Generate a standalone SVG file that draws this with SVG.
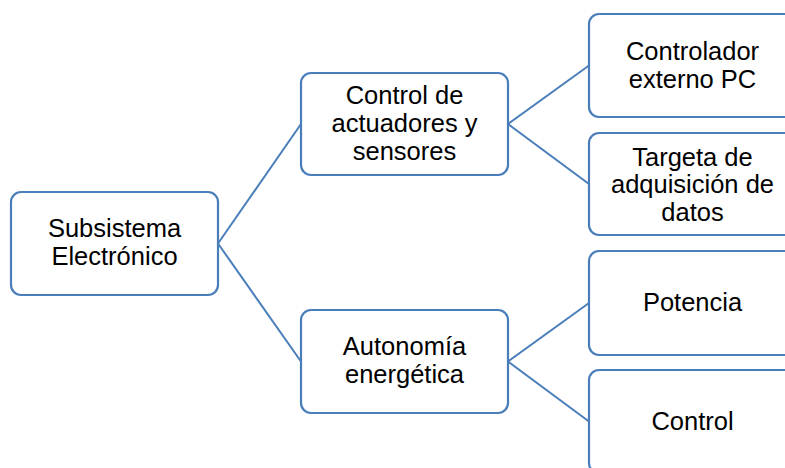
<svg xmlns="http://www.w3.org/2000/svg" width="785" height="468" viewBox="0 0 785 468">
<style>
.box{fill:#fff;stroke:#4A7EBB;stroke-width:2.2}
.lbl{font-family:"Liberation Sans",Arial,sans-serif;font-size:25.5px;fill:#000;text-anchor:middle}
.con{stroke:#4A7EBB;stroke-width:2;fill:none}
</style>
<rect width="785" height="468" fill="#fff"/>
<g id="connectors">
<line class="con" x1="218" y1="243.5" x2="301" y2="124"/>
<line class="con" x1="218" y1="243.5" x2="301" y2="361.5"/>
<line class="con" x1="508" y1="124" x2="589" y2="65.5"/>
<line class="con" x1="508" y1="124" x2="589" y2="184"/>
<line class="con" x1="508" y1="361.5" x2="589" y2="303"/>
<line class="con" x1="508" y1="361.5" x2="589" y2="421.5"/>
</g>
<g id="root">
<rect class="box" x="11" y="192" width="207" height="103" rx="10"/>
<text class="lbl" x="114.5" y="237.3">Subsistema</text>
<text class="lbl" x="114.5" y="265">Electrónico</text>
</g>
<g id="control-actuadores">
<rect class="box" x="301" y="73" width="207" height="102" rx="10"/>
<text class="lbl" x="404.5" y="104.3">Control de</text>
<text class="lbl" x="404.5" y="132.2">actuadores y</text>
<text class="lbl" x="404.5" y="160">sensores</text>
</g>
<g id="autonomia">
<rect class="box" x="301" y="310" width="207" height="103" rx="10"/>
<text class="lbl" x="404.5" y="355">Autonomía</text>
<text class="lbl" x="404.5" y="382.8">energética</text>
</g>
<g id="controlador">
<rect class="box" x="589" y="14" width="207" height="103" rx="10"/>
<text class="lbl" x="692.5" y="60">Controlador</text>
<text class="lbl" x="692.5" y="87.7">externo PC</text>
</g>
<g id="targeta">
<rect class="box" x="589" y="133" width="207" height="102" rx="10"/>
<text class="lbl" x="692.5" y="165.7">Targeta de</text>
<text class="lbl" x="692.5" y="193">adquisición de</text>
<text class="lbl" x="692.5" y="220.5">datos</text>
</g>
<g id="potencia">
<rect class="box" x="589" y="251" width="207" height="104" rx="10"/>
<text class="lbl" x="692.5" y="311">Potencia</text>
</g>
<g id="control">
<rect class="box" x="589" y="370" width="207" height="103" rx="10"/>
<text class="lbl" x="692.5" y="430">Control</text>
</g>
</svg>
